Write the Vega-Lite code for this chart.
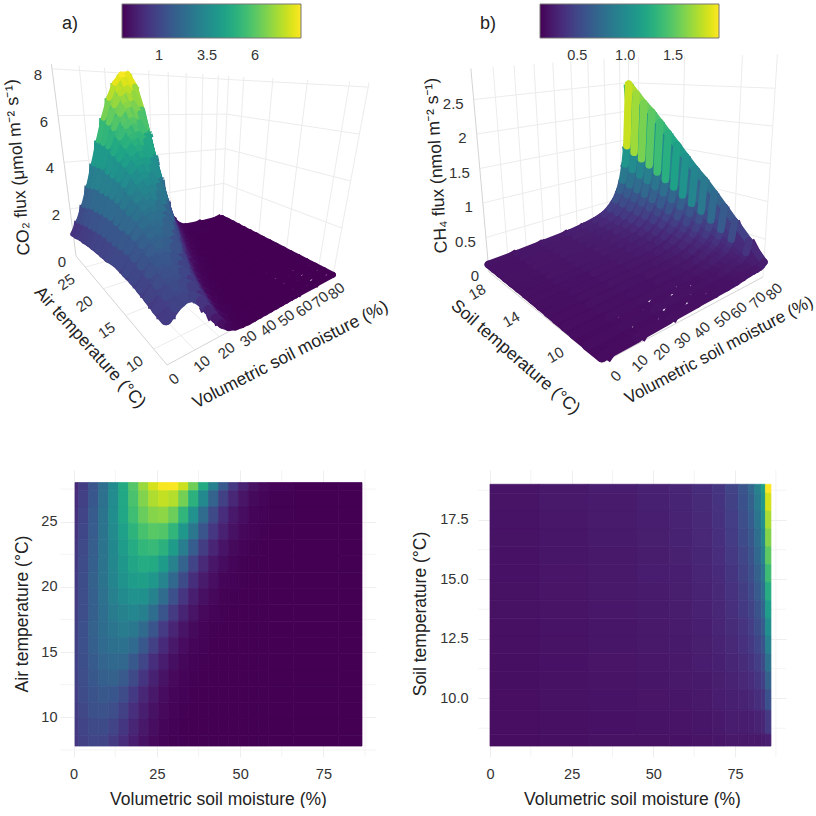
{"$schema":"https://vega.github.io/schema/vega-lite/v6.json","background":"white","padding":{"left":2,"top":0,"right":0,"bottom":0},"bounds":"flush","columns":2,"spacing":{"row":0,"column":102},"resolve":{"scale":{"color":"independent","stroke":"independent"}},"config":{"font":"Liberation Sans","view":{"stroke":null},"axis":{"labelFont":"Liberation Sans","titleFont":"Liberation Sans","titleFontWeight":"normal","labelColor":"#333333","titleColor":"#222222","labelFontSize":14.5,"titleFontSize":17.5,"domain":false,"ticks":false,"grid":true,"gridColor":"#eeeeee"},"legend":{"labelFont":"Liberation Sans"}},
"datasets":{
"auxA":[
{"k":"a","id":"z","m":0,"t":28,"f":0},{"k":"a","id":"z","m":0,"t":28,"f":8.2},{"k":"a","id":"tt","m":0,"t":28,"f":0},{"k":"a","id":"tt","m":0,"t":8,"f":0},{"k":"a","id":"mm","m":0,"t":8,"f":0},{"k":"a","id":"mm","m":87,"t":8,"f":0},
{"k":"g","id":1,"m":10,"t":28,"f":0},{"k":"g","id":1,"m":10,"t":28,"f":8.2},{"k":"g","id":2,"m":20,"t":28,"f":0},{"k":"g","id":2,"m":20,"t":28,"f":8.2},{"k":"g","id":3,"m":30,"t":28,"f":0},{"k":"g","id":3,"m":30,"t":28,"f":8.2},{"k":"g","id":4,"m":40,"t":28,"f":0},{"k":"g","id":4,"m":40,"t":28,"f":8.2},{"k":"g","id":5,"m":50,"t":28,"f":0},{"k":"g","id":5,"m":50,"t":28,"f":8.2},{"k":"g","id":6,"m":60,"t":28,"f":0},{"k":"g","id":6,"m":60,"t":28,"f":8.2},{"k":"g","id":7,"m":70,"t":28,"f":0},{"k":"g","id":7,"m":70,"t":28,"f":8.2},{"k":"g","id":8,"m":80,"t":28,"f":0},{"k":"g","id":8,"m":80,"t":28,"f":8.2},{"k":"g","id":9,"m":87,"t":28,"f":0},{"k":"g","id":9,"m":87,"t":28,"f":8.2},
{"k":"g","id":10,"m":87,"t":25,"f":0},{"k":"g","id":10,"m":87,"t":25,"f":8.2},{"k":"g","id":11,"m":87,"t":20,"f":0},{"k":"g","id":11,"m":87,"t":20,"f":8.2},{"k":"g","id":12,"m":87,"t":15,"f":0},{"k":"g","id":12,"m":87,"t":15,"f":8.2},{"k":"g","id":13,"m":87,"t":10,"f":0},{"k":"g","id":13,"m":87,"t":10,"f":8.2},{"k":"g","id":14,"m":87,"t":8,"f":0},{"k":"g","id":14,"m":87,"t":8,"f":8.2},
{"k":"g","id":20,"m":0,"t":28,"f":2},{"k":"g","id":20,"m":87,"t":28,"f":2},{"k":"g","id":21,"m":0,"t":28,"f":4},{"k":"g","id":21,"m":87,"t":28,"f":4},{"k":"g","id":22,"m":0,"t":28,"f":6},{"k":"g","id":22,"m":87,"t":28,"f":6},{"k":"g","id":23,"m":0,"t":28,"f":8},{"k":"g","id":23,"m":87,"t":28,"f":8},
{"k":"g","id":24,"m":87,"t":28,"f":2},{"k":"g","id":24,"m":87,"t":8,"f":2},{"k":"g","id":25,"m":87,"t":28,"f":4},{"k":"g","id":25,"m":87,"t":8,"f":4},{"k":"g","id":26,"m":87,"t":28,"f":6},{"k":"g","id":26,"m":87,"t":8,"f":6},{"k":"g","id":27,"m":87,"t":28,"f":8},{"k":"g","id":27,"m":87,"t":8,"f":8},
{"k":"g","id":30,"m":0,"t":25,"f":0},{"k":"g","id":30,"m":87,"t":25,"f":0},{"k":"g","id":31,"m":0,"t":20,"f":0},{"k":"g","id":31,"m":87,"t":20,"f":0},{"k":"g","id":32,"m":0,"t":15,"f":0},{"k":"g","id":32,"m":87,"t":15,"f":0},{"k":"g","id":33,"m":0,"t":10,"f":0},{"k":"g","id":33,"m":87,"t":10,"f":0},
{"k":"g","id":40,"m":10,"t":28,"f":0},{"k":"g","id":40,"m":10,"t":8,"f":0},{"k":"g","id":41,"m":20,"t":28,"f":0},{"k":"g","id":41,"m":20,"t":8,"f":0},{"k":"g","id":42,"m":30,"t":28,"f":0},{"k":"g","id":42,"m":30,"t":8,"f":0},{"k":"g","id":43,"m":40,"t":28,"f":0},{"k":"g","id":43,"m":40,"t":8,"f":0},{"k":"g","id":44,"m":60,"t":28,"f":0},{"k":"g","id":44,"m":60,"t":8,"f":0},{"k":"g","id":45,"m":80,"t":28,"f":0},{"k":"g","id":45,"m":80,"t":8,"f":0},
{"k":"mt","l":"0","m":0,"t":8,"f":0},{"k":"mt","l":"10","m":10,"t":8,"f":0},{"k":"mt","l":"20","m":20,"t":8,"f":0},{"k":"mt","l":"30","m":30,"t":8,"f":0},{"k":"mt","l":"40","m":40,"t":8,"f":0},{"k":"mt","l":"50","m":50,"t":8,"f":0},{"k":"mt","l":"60","m":61,"t":8,"f":0},{"k":"mt","l":"70","m":72,"t":8,"f":0},{"k":"mt","l":"80","m":84,"t":8,"f":0},
{"k":"tt","l":"25","m":0,"t":25,"f":0},{"k":"tt","l":"20","m":0,"t":20,"f":0},{"k":"tt","l":"15","m":0,"t":15,"f":0},{"k":"tt","l":"10","m":0,"t":10,"f":0},
{"k":"zt","l":"0","m":0,"t":28,"f":0},{"k":"zt","l":"2","m":0,"t":28,"f":2},{"k":"zt","l":"4","m":0,"t":28,"f":4},{"k":"zt","l":"6","m":0,"t":28,"f":6},{"k":"zt","l":"8","m":0,"t":28,"f":8},
{"k":"mT","l":"Volumetric soil moisture (%)","m":45,"t":8,"f":0},{"k":"tT","l":"Air temperature (°C)","m":0,"t":16,"f":0},{"k":"zT","l":"CO₂ flux (μmol m⁻² s⁻¹)","m":0,"t":28,"f":4}
],
"auxB":[
{"k":"a","id":"z","m":0,"t":19,"f":0},{"k":"a","id":"z","m":0,"t":19,"f":2.95},{"k":"a","id":"tt","m":0,"t":19,"f":0},{"k":"a","id":"tt","m":0,"t":8,"f":0},{"k":"a","id":"mm","m":0,"t":8,"f":0},{"k":"a","id":"mm","m":86,"t":8,"f":0},
{"k":"g","id":1,"m":10,"t":19,"f":0},{"k":"g","id":1,"m":10,"t":19,"f":2.95},{"k":"g","id":2,"m":20,"t":19,"f":0},{"k":"g","id":2,"m":20,"t":19,"f":2.95},{"k":"g","id":3,"m":30,"t":19,"f":0},{"k":"g","id":3,"m":30,"t":19,"f":2.95},{"k":"g","id":4,"m":40,"t":19,"f":0},{"k":"g","id":4,"m":40,"t":19,"f":2.95},{"k":"g","id":5,"m":50,"t":19,"f":0},{"k":"g","id":5,"m":50,"t":19,"f":2.95},{"k":"g","id":6,"m":60,"t":19,"f":0},{"k":"g","id":6,"m":60,"t":19,"f":2.95},{"k":"g","id":7,"m":70,"t":19,"f":0},{"k":"g","id":7,"m":70,"t":19,"f":2.95},{"k":"g","id":8,"m":80,"t":19,"f":0},{"k":"g","id":8,"m":80,"t":19,"f":2.95},{"k":"g","id":9,"m":86,"t":19,"f":0},{"k":"g","id":9,"m":86,"t":19,"f":2.95},
{"k":"g","id":10,"m":86,"t":18,"f":0},{"k":"g","id":10,"m":86,"t":18,"f":2.95},{"k":"g","id":11,"m":86,"t":14,"f":0},{"k":"g","id":11,"m":86,"t":14,"f":2.95},{"k":"g","id":12,"m":86,"t":10,"f":0},{"k":"g","id":12,"m":86,"t":10,"f":2.95},{"k":"g","id":13,"m":86,"t":8,"f":0},{"k":"g","id":13,"m":86,"t":8,"f":2.95},
{"k":"g","id":20,"m":0,"t":19,"f":0.5},{"k":"g","id":20,"m":86,"t":19,"f":0.5},{"k":"g","id":21,"m":0,"t":19,"f":1},{"k":"g","id":21,"m":86,"t":19,"f":1},{"k":"g","id":22,"m":0,"t":19,"f":1.5},{"k":"g","id":22,"m":86,"t":19,"f":1.5},{"k":"g","id":23,"m":0,"t":19,"f":2},{"k":"g","id":23,"m":86,"t":19,"f":2},{"k":"g","id":24,"m":0,"t":19,"f":2.5},{"k":"g","id":24,"m":86,"t":19,"f":2.5},
{"k":"g","id":25,"m":86,"t":19,"f":0.5},{"k":"g","id":25,"m":86,"t":8,"f":0.5},{"k":"g","id":26,"m":86,"t":19,"f":1},{"k":"g","id":26,"m":86,"t":8,"f":1},{"k":"g","id":27,"m":86,"t":19,"f":1.5},{"k":"g","id":27,"m":86,"t":8,"f":1.5},{"k":"g","id":28,"m":86,"t":19,"f":2},{"k":"g","id":28,"m":86,"t":8,"f":2},{"k":"g","id":29,"m":86,"t":19,"f":2.5},{"k":"g","id":29,"m":86,"t":8,"f":2.5},
{"k":"g","id":40,"m":10,"t":9,"f":0},{"k":"g","id":40,"m":10,"t":8,"f":0},{"k":"g","id":41,"m":30,"t":9,"f":0},{"k":"g","id":41,"m":30,"t":8,"f":0},{"k":"g","id":42,"m":50,"t":9,"f":0},{"k":"g","id":42,"m":50,"t":8,"f":0},{"k":"g","id":43,"m":70,"t":9,"f":0},{"k":"g","id":43,"m":70,"t":8,"f":0},
{"k":"mt","l":"0","m":0,"t":8,"f":0},{"k":"mt","l":"10","m":10,"t":8,"f":0},{"k":"mt","l":"20","m":20,"t":8,"f":0},{"k":"mt","l":"30","m":30,"t":8,"f":0},{"k":"mt","l":"40","m":40,"t":8,"f":0},{"k":"mt","l":"50","m":51.5,"t":8,"f":0},{"k":"mt","l":"60","m":61,"t":8,"f":0},{"k":"mt","l":"70","m":73,"t":8,"f":0},{"k":"mt","l":"80","m":84,"t":8,"f":0},
{"k":"tt","l":"18","m":0,"t":18,"f":0},{"k":"tt","l":"14","m":0,"t":14,"f":0},{"k":"tt","l":"10","m":0,"t":10,"f":0},
{"k":"zt","l":"0","m":0,"t":19,"f":0},{"k":"zt","l":"0.5","m":0,"t":19,"f":0.5},{"k":"zt","l":"1","m":0,"t":19,"f":1},{"k":"zt","l":"1.5","m":0,"t":19,"f":1.5},{"k":"zt","l":"2","m":0,"t":19,"f":2},{"k":"zt","l":"2.5","m":0,"t":19,"f":2.5},
{"k":"mT","l":"Volumetric soil moisture (%)","m":45,"t":8,"f":0},{"k":"tT","l":"Soil temperature (°C)","m":0,"t":13,"f":0},{"k":"zT","l":"CH₄ flux (nmol m⁻² s⁻¹)","m":0,"t":19,"f":1.5}
],
"co2":[
{"m":0,"t":28,"f":0.94},{"m":3,"t":28,"f":1.43},{"m":6,"t":28,"f":2.07},{"m":9,"t":28,"f":2.88},{"m":12,"t":28,"f":3.83},{"m":15,"t":28,"f":4.85},{"m":18,"t":28,"f":5.87},{"m":21,"t":28,"f":6.79},{"m":24,"t":28,"f":7.5},{"m":27,"t":28,"f":7.92},{"m":30,"t":28,"f":7.96},{"m":33,"t":28,"f":7.38},{"m":36,"t":28,"f":6.26},{"m":39,"t":28,"f":4.85},{"m":42,"t":28,"f":3.44},{"m":45,"t":28,"f":2.22},{"m":48,"t":28,"f":1.31},{"m":51,"t":28,"f":0.71},{"m":54,"t":28,"f":0.35},{"m":57,"t":28,"f":0.16},{"m":60,"t":28,"f":0.07},{"m":72,"t":28,"f":0.01},{"m":87,"t":28,"f":0.01},
{"m":0,"t":26.75,"f":1.01},{"m":3,"t":26.75,"f":1.52},{"m":6,"t":26.75,"f":2.17},{"m":9,"t":26.75,"f":2.96},{"m":12,"t":26.75,"f":3.86},{"m":15,"t":26.75,"f":4.81},{"m":18,"t":26.75,"f":5.71},{"m":21,"t":26.75,"f":6.49},{"m":24,"t":26.75,"f":7.04},{"m":27,"t":26.75,"f":7.29},{"m":30,"t":26.75,"f":7.11},{"m":33,"t":26.75,"f":6.32},{"m":36,"t":26.75,"f":5.11},{"m":39,"t":26.75,"f":3.75},{"m":42,"t":26.75,"f":2.5},{"m":45,"t":26.75,"f":1.51},{"m":48,"t":26.75,"f":0.84},{"m":51,"t":26.75,"f":0.42},{"m":54,"t":26.75,"f":0.19},{"m":57,"t":26.75,"f":0.08},{"m":60,"t":26.75,"f":0.03},{"m":72,"t":26.75,"f":0.01},{"m":87,"t":26.75,"f":0.01},
{"m":0,"t":25.5,"f":1.11},{"m":3,"t":25.5,"f":1.62},{"m":6,"t":25.5,"f":2.28},{"m":9,"t":25.5,"f":3.04},{"m":12,"t":25.5,"f":3.89},{"m":15,"t":25.5,"f":4.75},{"m":18,"t":25.5,"f":5.53},{"m":21,"t":25.5,"f":6.16},{"m":24,"t":25.5,"f":6.54},{"m":27,"t":25.5,"f":6.64},{"m":30,"t":25.5,"f":6.21},{"m":33,"t":25.5,"f":5.26},{"m":36,"t":25.5,"f":4.04},{"m":39,"t":25.5,"f":2.8},{"m":42,"t":25.5,"f":1.76},{"m":45,"t":25.5,"f":1.0},{"m":48,"t":25.5,"f":0.52},{"m":51,"t":25.5,"f":0.24},{"m":54,"t":25.5,"f":0.1},{"m":57,"t":25.5,"f":0.04},{"m":60,"t":25.5,"f":0.02},{"m":72,"t":25.5,"f":0.01},{"m":87,"t":25.5,"f":0.01},
{"m":0,"t":24.25,"f":1.16},{"m":3,"t":24.25,"f":1.67},{"m":6,"t":24.25,"f":2.3},{"m":9,"t":24.25,"f":3.02},{"m":12,"t":24.25,"f":3.79},{"m":15,"t":24.25,"f":4.54},{"m":18,"t":24.25,"f":5.19},{"m":21,"t":24.25,"f":5.68},{"m":24,"t":24.25,"f":5.93},{"m":27,"t":24.25,"f":5.85},{"m":30,"t":24.25,"f":5.26},{"m":33,"t":24.25,"f":4.28},{"m":36,"t":24.25,"f":3.16},{"m":39,"t":24.25,"f":2.11},{"m":42,"t":24.25,"f":1.27},{"m":45,"t":24.25,"f":0.7},{"m":48,"t":24.25,"f":0.34},{"m":51,"t":24.25,"f":0.15},{"m":54,"t":24.25,"f":0.06},{"m":57,"t":24.25,"f":0.03},{"m":60,"t":24.25,"f":0.01},{"m":72,"t":24.25,"f":0.01},{"m":87,"t":24.25,"f":0.01},
{"m":0,"t":23,"f":1.24},{"m":3,"t":23,"f":1.75},{"m":6,"t":23,"f":2.36},{"m":9,"t":23,"f":3.05},{"m":12,"t":23,"f":3.74},{"m":15,"t":23,"f":4.39},{"m":18,"t":23,"f":4.92},{"m":21,"t":23,"f":5.28},{"m":24,"t":23,"f":5.4},{"m":27,"t":23,"f":5.12},{"m":30,"t":23,"f":4.36},{"m":33,"t":23,"f":3.35},{"m":36,"t":23,"f":2.31},{"m":39,"t":23,"f":1.43},{"m":42,"t":23,"f":0.79},{"m":45,"t":23,"f":0.4},{"m":48,"t":23,"f":0.18},{"m":51,"t":23,"f":0.07},{"m":54,"t":23,"f":0.03},{"m":57,"t":23,"f":0.01},{"m":60,"t":23,"f":0.01},{"m":72,"t":23,"f":0.01},{"m":87,"t":23,"f":0.01},
{"m":0,"t":21.75,"f":1.29},{"m":3,"t":21.75,"f":1.8},{"m":6,"t":21.75,"f":2.4},{"m":9,"t":21.75,"f":3.05},{"m":12,"t":21.75,"f":3.69},{"m":15,"t":21.75,"f":4.26},{"m":18,"t":21.75,"f":4.69},{"m":21,"t":21.75,"f":4.92},{"m":24,"t":21.75,"f":4.88},{"m":27,"t":21.75,"f":4.37},{"m":30,"t":21.75,"f":3.5},{"m":33,"t":21.75,"f":2.5},{"m":36,"t":21.75,"f":1.61},{"m":39,"t":21.75,"f":0.92},{"m":42,"t":21.75,"f":0.47},{"m":45,"t":21.75,"f":0.22},{"m":48,"t":21.75,"f":0.09},{"m":51,"t":21.75,"f":0.03},{"m":54,"t":21.75,"f":0.01},{"m":57,"t":21.75,"f":0.01},{"m":60,"t":21.75,"f":0.01},{"m":72,"t":21.75,"f":0.01},{"m":87,"t":21.75,"f":0.01},
{"m":0,"t":20.5,"f":1.34},{"m":3,"t":20.5,"f":1.85},{"m":6,"t":20.5,"f":2.43},{"m":9,"t":20.5,"f":3.03},{"m":12,"t":20.5,"f":3.6},{"m":15,"t":20.5,"f":4.08},{"m":18,"t":20.5,"f":4.39},{"m":21,"t":20.5,"f":4.5},{"m":24,"t":20.5,"f":4.24},{"m":27,"t":20.5,"f":3.57},{"m":30,"t":20.5,"f":2.67},{"m":33,"t":20.5,"f":1.78},{"m":36,"t":20.5,"f":1.05},{"m":39,"t":20.5,"f":0.55},{"m":42,"t":20.5,"f":0.26},{"m":45,"t":20.5,"f":0.11},{"m":48,"t":20.5,"f":0.04},{"m":51,"t":20.5,"f":0.02},{"m":54,"t":20.5,"f":0.01},{"m":57,"t":20.5,"f":0.01},{"m":60,"t":20.5,"f":0.01},{"m":72,"t":20.5,"f":0.01},{"m":87,"t":20.5,"f":0.01},
{"m":0,"t":19.25,"f":1.37},{"m":3,"t":19.25,"f":1.86},{"m":6,"t":19.25,"f":2.4},{"m":9,"t":19.25,"f":2.95},{"m":12,"t":19.25,"f":3.44},{"m":15,"t":19.25,"f":3.82},{"m":18,"t":19.25,"f":4.02},{"m":21,"t":19.25,"f":4.0},{"m":24,"t":19.25,"f":3.55},{"m":27,"t":19.25,"f":2.8},{"m":30,"t":19.25,"f":1.95},{"m":33,"t":19.25,"f":1.2},{"m":36,"t":19.25,"f":0.66},{"m":39,"t":19.25,"f":0.32},{"m":42,"t":19.25,"f":0.14},{"m":45,"t":19.25,"f":0.05},{"m":48,"t":19.25,"f":0.02},{"m":51,"t":19.25,"f":0.01},{"m":54,"t":19.25,"f":0.01},{"m":57,"t":19.25,"f":0.01},{"m":60,"t":19.25,"f":0.01},{"m":72,"t":19.25,"f":0.01},{"m":87,"t":19.25,"f":0.01},
{"m":0,"t":18,"f":1.4},{"m":3,"t":18,"f":1.88},{"m":6,"t":18,"f":2.38},{"m":9,"t":18,"f":2.87},{"m":12,"t":18,"f":3.28},{"m":15,"t":18,"f":3.55},{"m":18,"t":18,"f":3.65},{"m":21,"t":18,"f":3.43},{"m":24,"t":18,"f":2.84},{"m":27,"t":18,"f":2.08},{"m":30,"t":18,"f":1.35},{"m":33,"t":18,"f":0.77},{"m":36,"t":18,"f":0.39},{"m":39,"t":18,"f":0.17},{"m":42,"t":18,"f":0.07},{"m":45,"t":18,"f":0.03},{"m":48,"t":18,"f":0.01},{"m":51,"t":18,"f":0.01},{"m":54,"t":18,"f":0.01},{"m":57,"t":18,"f":0.01},{"m":60,"t":18,"f":0.01},{"m":72,"t":18,"f":0.01},{"m":87,"t":18,"f":0.01},
{"m":0,"t":16.75,"f":1.49},{"m":3,"t":16.75,"f":1.95},{"m":6,"t":16.75,"f":2.42},{"m":9,"t":16.75,"f":2.84},{"m":12,"t":16.75,"f":3.14},{"m":15,"t":16.75,"f":3.29},{"m":18,"t":16.75,"f":3.2},{"m":21,"t":16.75,"f":2.75},{"m":24,"t":16.75,"f":2.07},{"m":27,"t":16.75,"f":1.37},{"m":30,"t":16.75,"f":0.8},{"m":33,"t":16.75,"f":0.4},{"m":36,"t":16.75,"f":0.18},{"m":39,"t":16.75,"f":0.07},{"m":42,"t":16.75,"f":0.03},{"m":45,"t":16.75,"f":0.01},{"m":48,"t":16.75,"f":0.01},{"m":51,"t":16.75,"f":0.01},{"m":54,"t":16.75,"f":0.01},{"m":57,"t":16.75,"f":0.01},{"m":60,"t":16.75,"f":0.01},{"m":72,"t":16.75,"f":0.01},{"m":87,"t":16.75,"f":0.01},
{"m":0,"t":15.5,"f":1.53},{"m":3,"t":15.5,"f":1.96},{"m":6,"t":15.5,"f":2.38},{"m":9,"t":15.5,"f":2.72},{"m":12,"t":15.5,"f":2.94},{"m":15,"t":15.5,"f":2.99},{"m":18,"t":15.5,"f":2.74},{"m":21,"t":15.5,"f":2.19},{"m":24,"t":15.5,"f":1.53},{"m":27,"t":15.5,"f":0.94},{"m":30,"t":15.5,"f":0.5},{"m":33,"t":15.5,"f":0.23},{"m":36,"t":15.5,"f":0.1},{"m":39,"t":15.5,"f":0.04},{"m":42,"t":15.5,"f":0.01},{"m":45,"t":15.5,"f":0.01},{"m":48,"t":15.5,"f":0.01},{"m":51,"t":15.5,"f":0.01},{"m":54,"t":15.5,"f":0.01},{"m":57,"t":15.5,"f":0.01},{"m":60,"t":15.5,"f":0.01},{"m":72,"t":15.5,"f":0.01},{"m":87,"t":15.5,"f":0.01},
{"m":0,"t":14.25,"f":1.5},{"m":3,"t":14.25,"f":1.91},{"m":6,"t":14.25,"f":2.28},{"m":9,"t":14.25,"f":2.55},{"m":12,"t":14.25,"f":2.69},{"m":15,"t":14.25,"f":2.62},{"m":18,"t":14.25,"f":2.22},{"m":21,"t":14.25,"f":1.64},{"m":24,"t":14.25,"f":1.05},{"m":27,"t":14.25,"f":0.58},{"m":30,"t":14.25,"f":0.28},{"m":33,"t":14.25,"f":0.12},{"m":36,"t":14.25,"f":0.04},{"m":39,"t":14.25,"f":0.02},{"m":42,"t":14.25,"f":0.01},{"m":45,"t":14.25,"f":0.01},{"m":48,"t":14.25,"f":0.01},{"m":51,"t":14.25,"f":0.01},{"m":54,"t":14.25,"f":0.01},{"m":57,"t":14.25,"f":0.01},{"m":60,"t":14.25,"f":0.01},{"m":72,"t":14.25,"f":0.01},{"m":87,"t":14.25,"f":0.01},
{"m":0,"t":13,"f":1.49},{"m":3,"t":13,"f":1.86},{"m":6,"t":13,"f":2.19},{"m":9,"t":13,"f":2.39},{"m":12,"t":13,"f":2.45},{"m":15,"t":13,"f":2.23},{"m":18,"t":13,"f":1.76},{"m":21,"t":13,"f":1.21},{"m":24,"t":13,"f":0.72},{"m":27,"t":13,"f":0.37},{"m":30,"t":13,"f":0.17},{"m":33,"t":13,"f":0.07},{"m":36,"t":13,"f":0.02},{"m":39,"t":13,"f":0.01},{"m":42,"t":13,"f":0.01},{"m":45,"t":13,"f":0.01},{"m":48,"t":13,"f":0.01},{"m":51,"t":13,"f":0.01},{"m":54,"t":13,"f":0.01},{"m":57,"t":13,"f":0.01},{"m":60,"t":13,"f":0.01},{"m":72,"t":13,"f":0.01},{"m":87,"t":13,"f":0.01},
{"m":0,"t":11.75,"f":1.45},{"m":3,"t":11.75,"f":1.8},{"m":6,"t":11.75,"f":2.06},{"m":9,"t":11.75,"f":2.19},{"m":12,"t":11.75,"f":2.13},{"m":15,"t":11.75,"f":1.81},{"m":18,"t":11.75,"f":1.34},{"m":21,"t":11.75,"f":0.86},{"m":24,"t":11.75,"f":0.48},{"m":27,"t":11.75,"f":0.23},{"m":30,"t":11.75,"f":0.1},{"m":33,"t":11.75,"f":0.04},{"m":36,"t":11.75,"f":0.01},{"m":39,"t":11.75,"f":0.01},{"m":42,"t":11.75,"f":0.01},{"m":45,"t":11.75,"f":0.01},{"m":48,"t":11.75,"f":0.01},{"m":51,"t":11.75,"f":0.01},{"m":54,"t":11.75,"f":0.01},{"m":57,"t":11.75,"f":0.01},{"m":60,"t":11.75,"f":0.01},{"m":72,"t":11.75,"f":0.01},{"m":87,"t":11.75,"f":0.01},
{"m":0,"t":10.5,"f":1.39},{"m":3,"t":10.5,"f":1.7},{"m":6,"t":10.5,"f":1.92},{"m":9,"t":10.5,"f":2.0},{"m":12,"t":10.5,"f":1.86},{"m":15,"t":10.5,"f":1.51},{"m":18,"t":10.5,"f":1.06},{"m":21,"t":10.5,"f":0.65},{"m":24,"t":10.5,"f":0.34},{"m":27,"t":10.5,"f":0.16},{"m":30,"t":10.5,"f":0.06},{"m":33,"t":10.5,"f":0.02},{"m":36,"t":10.5,"f":0.01},{"m":39,"t":10.5,"f":0.01},{"m":42,"t":10.5,"f":0.01},{"m":45,"t":10.5,"f":0.01},{"m":48,"t":10.5,"f":0.01},{"m":51,"t":10.5,"f":0.01},{"m":54,"t":10.5,"f":0.01},{"m":57,"t":10.5,"f":0.01},{"m":60,"t":10.5,"f":0.01},{"m":72,"t":10.5,"f":0.01},{"m":87,"t":10.5,"f":0.01},
{"m":0,"t":9.25,"f":1.31},{"m":3,"t":9.25,"f":1.59},{"m":6,"t":9.25,"f":1.76},{"m":9,"t":9.25,"f":1.79},{"m":12,"t":9.25,"f":1.59},{"m":15,"t":9.25,"f":1.23},{"m":18,"t":9.25,"f":0.82},{"m":21,"t":9.25,"f":0.48},{"m":24,"t":9.25,"f":0.24},{"m":27,"t":9.25,"f":0.11},{"m":30,"t":9.25,"f":0.04},{"m":33,"t":9.25,"f":0.01},{"m":36,"t":9.25,"f":0.01},{"m":39,"t":9.25,"f":0.01},{"m":42,"t":9.25,"f":0.01},{"m":45,"t":9.25,"f":0.01},{"m":48,"t":9.25,"f":0.01},{"m":51,"t":9.25,"f":0.01},{"m":54,"t":9.25,"f":0.01},{"m":57,"t":9.25,"f":0.01},{"m":60,"t":9.25,"f":0.01},{"m":72,"t":9.25,"f":0.01},{"m":87,"t":9.25,"f":0.01},
{"m":0,"t":8,"f":1.26},{"m":3,"t":8,"f":1.51},{"m":6,"t":8,"f":1.64},{"m":9,"t":8,"f":1.6},{"m":12,"t":8,"f":1.36},{"m":15,"t":8,"f":1.0},{"m":18,"t":8,"f":0.64},{"m":21,"t":8,"f":0.36},{"m":24,"t":8,"f":0.17},{"m":27,"t":8,"f":0.07},{"m":30,"t":8,"f":0.03},{"m":33,"t":8,"f":0.01},{"m":36,"t":8,"f":0.01},{"m":39,"t":8,"f":0.01},{"m":42,"t":8,"f":0.01},{"m":45,"t":8,"f":0.01},{"m":48,"t":8,"f":0.01},{"m":51,"t":8,"f":0.01},{"m":54,"t":8,"f":0.01},{"m":57,"t":8,"f":0.01},{"m":60,"t":8,"f":0.01},{"m":72,"t":8,"f":0.01},{"m":87,"t":8,"f":0.01}
],
"ch4":[
{"m":0,"t":19,"f":0.12},{"m":15,"t":19,"f":0.14},{"m":30,"t":19,"f":0.17},{"m":45,"t":19,"f":0.2},{"m":55,"t":19,"f":0.24},{"m":62,"t":19,"f":0.28},{"m":68,"t":19,"f":0.34},{"m":72,"t":19,"f":0.42},{"m":76,"t":19,"f":0.55},{"m":79,"t":19,"f":0.72},{"m":81,"t":19,"f":0.9},{"m":83,"t":19,"f":1.2},{"m":84.3,"t":19,"f":1.55},{"m":86,"t":19,"f":2.75},
{"m":0,"t":18.25,"f":0.117},{"m":15,"t":18.25,"f":0.136},{"m":30,"t":18.25,"f":0.165},{"m":45,"t":18.25,"f":0.194},{"m":55,"t":18.25,"f":0.232},{"m":62,"t":18.25,"f":0.269},{"m":68,"t":18.25,"f":0.326},{"m":72,"t":18.25,"f":0.401},{"m":76,"t":18.25,"f":0.523},{"m":79,"t":18.25,"f":0.68},{"m":81,"t":18.25,"f":0.848},{"m":83,"t":18.25,"f":1.128},{"m":84.3,"t":18.25,"f":1.45},{"m":86,"t":18.25,"f":2.57},
{"m":0,"t":17.5,"f":0.113},{"m":15,"t":17.5,"f":0.132},{"m":30,"t":17.5,"f":0.16},{"m":45,"t":17.5,"f":0.188},{"m":55,"t":17.5,"f":0.223},{"m":62,"t":17.5,"f":0.258},{"m":68,"t":17.5,"f":0.311},{"m":72,"t":17.5,"f":0.382},{"m":76,"t":17.5,"f":0.496},{"m":79,"t":17.5,"f":0.642},{"m":81,"t":17.5,"f":0.797},{"m":83,"t":17.5,"f":1.056},{"m":84.3,"t":17.5,"f":1.356},{"m":86,"t":17.5,"f":2.395},
{"m":0,"t":16.75,"f":0.11},{"m":15,"t":16.75,"f":0.129},{"m":30,"t":16.75,"f":0.156},{"m":45,"t":16.75,"f":0.183},{"m":55,"t":16.75,"f":0.216},{"m":62,"t":16.75,"f":0.249},{"m":68,"t":16.75,"f":0.299},{"m":72,"t":16.75,"f":0.366},{"m":76,"t":16.75,"f":0.473},{"m":79,"t":16.75,"f":0.608},{"m":81,"t":16.75,"f":0.752},{"m":83,"t":16.75,"f":0.994},{"m":84.3,"t":16.75,"f":1.274},{"m":86,"t":16.75,"f":2.244},
{"m":0,"t":16,"f":0.107},{"m":15,"t":16,"f":0.125},{"m":30,"t":16,"f":0.152},{"m":45,"t":16,"f":0.177},{"m":55,"t":16,"f":0.208},{"m":62,"t":16,"f":0.238},{"m":68,"t":16,"f":0.285},{"m":72,"t":16,"f":0.347},{"m":76,"t":16,"f":0.446},{"m":79,"t":16,"f":0.568},{"m":81,"t":16,"f":0.701},{"m":83,"t":16,"f":0.922},{"m":84.3,"t":16,"f":1.178},{"m":86,"t":16,"f":2.068},
{"m":0,"t":15.25,"f":0.104},{"m":15,"t":15.25,"f":0.121},{"m":30,"t":15.25,"f":0.147},{"m":45,"t":15.25,"f":0.171},{"m":55,"t":15.25,"f":0.199},{"m":62,"t":15.25,"f":0.228},{"m":68,"t":15.25,"f":0.271},{"m":72,"t":15.25,"f":0.328},{"m":76,"t":15.25,"f":0.419},{"m":79,"t":15.25,"f":0.529},{"m":81,"t":15.25,"f":0.649},{"m":83,"t":15.25,"f":0.85},{"m":84.3,"t":15.25,"f":1.08},{"m":86,"t":15.25,"f":1.889},
{"m":0,"t":14.5,"f":0.1},{"m":15,"t":14.5,"f":0.117},{"m":30,"t":14.5,"f":0.142},{"m":45,"t":14.5,"f":0.166},{"m":55,"t":14.5,"f":0.191},{"m":62,"t":14.5,"f":0.217},{"m":68,"t":14.5,"f":0.256},{"m":72,"t":14.5,"f":0.31},{"m":76,"t":14.5,"f":0.392},{"m":79,"t":14.5,"f":0.49},{"m":81,"t":14.5,"f":0.598},{"m":83,"t":14.5,"f":0.776},{"m":84.3,"t":14.5,"f":0.984},{"m":86,"t":14.5,"f":1.713},
{"m":0,"t":13.75,"f":0.097},{"m":15,"t":13.75,"f":0.113},{"m":30,"t":13.75,"f":0.137},{"m":45,"t":13.75,"f":0.16},{"m":55,"t":13.75,"f":0.182},{"m":62,"t":13.75,"f":0.206},{"m":68,"t":13.75,"f":0.242},{"m":72,"t":13.75,"f":0.291},{"m":76,"t":13.75,"f":0.365},{"m":79,"t":13.75,"f":0.451},{"m":81,"t":13.75,"f":0.545},{"m":83,"t":13.75,"f":0.704},{"m":84.3,"t":13.75,"f":0.888},{"m":86,"t":13.75,"f":1.535},
{"m":0,"t":13,"f":0.094},{"m":15,"t":13,"f":0.109},{"m":30,"t":13,"f":0.133},{"m":45,"t":13,"f":0.154},{"m":55,"t":13,"f":0.174},{"m":62,"t":13,"f":0.195},{"m":68,"t":13,"f":0.228},{"m":72,"t":13,"f":0.273},{"m":76,"t":13,"f":0.338},{"m":79,"t":13,"f":0.411},{"m":81,"t":13,"f":0.494},{"m":83,"t":13,"f":0.632},{"m":84.3,"t":13,"f":0.791},{"m":86,"t":13,"f":1.359},
{"m":0,"t":12.25,"f":0.091},{"m":15,"t":12.25,"f":0.106},{"m":30,"t":12.25,"f":0.129},{"m":45,"t":12.25,"f":0.149},{"m":55,"t":12.25,"f":0.167},{"m":62,"t":12.25,"f":0.186},{"m":68,"t":12.25,"f":0.216},{"m":72,"t":12.25,"f":0.256},{"m":76,"t":12.25,"f":0.315},{"m":79,"t":12.25,"f":0.377},{"m":81,"t":12.25,"f":0.45},{"m":83,"t":12.25,"f":0.57},{"m":84.3,"t":12.25,"f":0.708},{"m":86,"t":12.25,"f":1.207},
{"m":0,"t":11.5,"f":0.087},{"m":15,"t":11.5,"f":0.102},{"m":30,"t":11.5,"f":0.124},{"m":45,"t":11.5,"f":0.143},{"m":55,"t":11.5,"f":0.158},{"m":62,"t":11.5,"f":0.175},{"m":68,"t":11.5,"f":0.201},{"m":72,"t":11.5,"f":0.237},{"m":76,"t":11.5,"f":0.288},{"m":79,"t":11.5,"f":0.338},{"m":81,"t":11.5,"f":0.398},{"m":83,"t":11.5,"f":0.498},{"m":84.3,"t":11.5,"f":0.612},{"m":86,"t":11.5,"f":1.029},
{"m":0,"t":10.75,"f":0.084},{"m":15,"t":10.75,"f":0.098},{"m":30,"t":10.75,"f":0.119},{"m":45,"t":10.75,"f":0.137},{"m":55,"t":10.75,"f":0.15},{"m":62,"t":10.75,"f":0.165},{"m":68,"t":10.75,"f":0.187},{"m":72,"t":10.75,"f":0.218},{"m":76,"t":10.75,"f":0.261},{"m":79,"t":10.75,"f":0.299},{"m":81,"t":10.75,"f":0.347},{"m":83,"t":10.75,"f":0.426},{"m":84.3,"t":10.75,"f":0.516},{"m":86,"t":10.75,"f":0.853},
{"m":0,"t":10,"f":0.081},{"m":15,"t":10,"f":0.094},{"m":30,"t":10,"f":0.114},{"m":45,"t":10,"f":0.131},{"m":55,"t":10,"f":0.142},{"m":62,"t":10,"f":0.154},{"m":68,"t":10,"f":0.173},{"m":72,"t":10,"f":0.2},{"m":76,"t":10,"f":0.234},{"m":79,"t":10,"f":0.259},{"m":81,"t":10,"f":0.295},{"m":83,"t":10,"f":0.354},{"m":84.3,"t":10,"f":0.419},{"m":86,"t":10,"f":0.677},
{"m":0,"t":9,"f":0.076},{"m":15,"t":9,"f":0.089},{"m":30,"t":9,"f":0.108},{"m":45,"t":9,"f":0.124},{"m":55,"t":9,"f":0.131},{"m":62,"t":9,"f":0.14},{"m":68,"t":9,"f":0.154},{"m":72,"t":9,"f":0.176},{"m":76,"t":9,"f":0.2},{"m":79,"t":9,"f":0.209},{"m":81,"t":9,"f":0.229},{"m":83,"t":9,"f":0.26},{"m":84.3,"t":9,"f":0.295},{"m":86,"t":9,"f":0.448},
{"m":0,"t":8,"f":0.072},{"m":15,"t":8,"f":0.084},{"m":30,"t":8,"f":0.102},{"m":45,"t":8,"f":0.116},{"m":55,"t":8,"f":0.12},{"m":62,"t":8,"f":0.126},{"m":68,"t":8,"f":0.136},{"m":72,"t":8,"f":0.151},{"m":76,"t":8,"f":0.165},{"m":79,"t":8,"f":0.17},{"m":81,"t":8,"f":0.172},{"m":83,"t":8,"f":0.178},{"m":84.3,"t":8,"f":0.19},{"m":86,"t":8,"f":0.22}
]},
"concat":[
{"width":316,"height":470,"title":{"text":"a)","anchor":"start","frame":"group","dx":2,"dy":37,"fontSize":18,"font":"Liberation Sans","fontWeight":"normal","color":"#222222"},"resolve":{"scale":{"color":"independent"}},
"layer":[
{"data":{"name":"auxA"},"transform":[{"calculate":"1+0.3512*datum.m/87-0.3553*(28-datum.t)/20","as":"d"},{"calculate":"(224*datum.m/87+31.7*(28-datum.t)/20+76)/datum.d","as":"gx"},{"calculate":"(38.6*datum.m/87-20.7*(28-datum.t)/20+256)/datum.d","as":"gy"},{"calculate":"datum.f*23.4/datum.d","as":"h"},{"calculate":"datum.gx+(datum.gx-182)*datum.h/(1083-datum.gy)","as":"sx"},{"calculate":"datum.gy-datum.h","as":"sy"}],
"encoding":{"x":{"field":"sx","type":"quantitative","axis":null,"scale":{"domain":[60,376],"nice":false,"zero":false}},"y":{"field":"sy","type":"quantitative","axis":null,"scale":{"domain":[470,0],"nice":false,"zero":false}}},
"layer":[
{"transform":[{"filter":"datum.k=='g'"}],"mark":{"type":"line","stroke":"#ececec","strokeWidth":1},"encoding":{"detail":{"field":"id"}}},
{"transform":[{"filter":"datum.k=='a'"}],"mark":{"type":"line","stroke":"#d4d4d4","strokeWidth":1},"encoding":{"detail":{"field":"id"}}},
{"transform":[{"filter":"datum.k=='mt'"}],"mark":{"type":"text","baseline":"middle","angle":-40,"dx":-3.6,"dy":15.2,"fontSize":15,"color":"#333333"},"encoding":{"text":{"field":"l"}}},
{"transform":[{"filter":"datum.k=='tt'"}],"mark":{"type":"text","baseline":"middle","angle":-35,"dx":-24.2,"dy":1.4,"fontSize":15,"color":"#333333"},"encoding":{"text":{"field":"l"}}},
{"transform":[{"filter":"datum.k=='zt'"}],"mark":{"type":"text","baseline":"middle","dx":-14,"dy":6,"fontSize":15,"color":"#333333"},"encoding":{"text":{"field":"l"}}},
{"transform":[{"filter":"datum.k=='mT'"}],"mark":{"type":"text","baseline":"middle","angle":-27,"dx":-3.1,"dy":50.1,"fontSize":17.5,"color":"#222222"},"encoding":{"text":{"field":"l"}}},
{"transform":[{"filter":"datum.k=='tT'"}],"mark":{"type":"text","baseline":"middle","angle":48,"dx":7.5,"dy":48.4,"fontSize":17.5,"color":"#222222"},"encoding":{"text":{"field":"l"}}},
{"transform":[{"filter":"datum.k=='zT'"}],"mark":{"type":"text","baseline":"middle","angle":265.7,"dx":-1.5,"dy":-46,"fontSize":17.5,"color":"#222222"},"encoding":{"text":{"field":"l"}}}
]},
{"data":{"name":"co2"},"transform":[{"calculate":"1+0.3512*datum.m/87-0.3553*(28-datum.t)/20","as":"d"},{"calculate":"(224*datum.m/87+31.7*(28-datum.t)/20+76)/datum.d","as":"gx"},{"calculate":"(38.6*datum.m/87-20.7*(28-datum.t)/20+256)/datum.d","as":"gy"},{"calculate":"datum.f*23.4/datum.d","as":"h"},{"calculate":"datum.gx+(datum.gx-182)*datum.h/(1083-datum.gy)","as":"sx"},{"calculate":"datum.gy-datum.h","as":"sy"},{"calculate":"max(5.5,5/(datum.d*datum.d))","as":"w"},{"calculate":"max(9,8/(datum.d*datum.d))","as":"wd"}],
"encoding":{"x":{"field":"sx","type":"quantitative","axis":null,"scale":{"domain":[60,376],"nice":false,"zero":false}},"y":{"field":"sy","type":"quantitative","axis":null,"scale":{"domain":[470,0],"nice":false,"zero":false}}},
"layer":[
{"transform":[{"window":[{"op":"lead","field":"sx","as":"nx"},{"op":"lead","field":"sy","as":"ny"},{"op":"lead","field":"f","as":"nf"}],"groupby":["t"],"sort":[{"field":"m","order":"ascending"}]},{"window":[{"op":"lead","field":"nx","as":"sx2"},{"op":"lead","field":"ny","as":"sy2"}],"groupby":["m"],"sort":[{"field":"t","order":"ascending"}]},{"filter":"isValid(datum.sx2)"},{"calculate":"(datum.f+datum.nf)/2","as":"c"}],"mark":{"type":"rule","strokeCap":"butt"},"encoding":{"x2":{"field":"sx2"},"y2":{"field":"sy2"},"size":{"field":"wd","type":"quantitative","scale":null,"legend":null},"color":{"field":"c","type":"quantitative","legend":null,"scale":{"scheme":"viridis","domain":[0,8]}}}},
{"transform":[{"window":[{"op":"lead","field":"sx","as":"sx2"},{"op":"lead","field":"sy","as":"sy2"},{"op":"lead","field":"f","as":"f2"}],"groupby":["m"],"sort":[{"field":"t","order":"ascending"}]},{"filter":"isValid(datum.sx2)"},{"calculate":"(datum.f+datum.f2)/2","as":"c"}],"mark":{"type":"rule","strokeCap":"round"},"encoding":{"x2":{"field":"sx2"},"y2":{"field":"sy2"},"size":{"field":"w","type":"quantitative","scale":null,"legend":null},"color":{"field":"c","type":"quantitative","legend":null,"scale":{"scheme":"viridis","domain":[0,8]}}}},
{"transform":[{"window":[{"op":"lead","field":"sx","as":"sx2"},{"op":"lead","field":"sy","as":"sy2"},{"op":"lead","field":"f","as":"f2"}],"groupby":["t"],"sort":[{"field":"m","order":"ascending"}]},{"filter":"isValid(datum.sx2)"},{"calculate":"(datum.f+datum.f2)/2","as":"c"}],"mark":{"type":"rule","strokeCap":"round"},"encoding":{"x2":{"field":"sx2"},"y2":{"field":"sy2"},"size":{"field":"w","type":"quantitative","scale":null,"legend":null},"color":{"field":"c","type":"quantitative","legend":null,"scale":{"scheme":"viridis","domain":[0,8]}}}}
]},
{"data":{"values":[{"v":1},{"v":3.5},{"v":6}]},"mark":{"type":"point","opacity":0},"encoding":{"color":{"field":"v","type":"quantitative","scale":{"scheme":"viridis","domain":[-0.93,8.4],"nice":false,"zero":false},"legend":{"orient":"none","legendX":62,"legendY":4,"direction":"horizontal","title":null,"gradientLength":179,"gradientThickness":34,"gradientStrokeColor":"#777777","gradientStrokeWidth":1,"values":[1,3.5,6],"labelExpr":"''+datum.value","labelFontSize":14.5,"labelColor":"#333333","labelOffset":11}}}}
]},
{"width":308,"height":470,"title":{"text":"b)","anchor":"start","frame":"group","dx":2,"dy":37,"fontSize":18,"font":"Liberation Sans","fontWeight":"normal","color":"#222222"},"resolve":{"scale":{"color":"independent"}},
"layer":[
{"data":{"name":"auxB"},"transform":[{"calculate":"1+0.2202*datum.m/86-0.3061*(19-datum.t)/11","as":"d"},{"calculate":"(279.7*datum.m/86-71.3*(19-datum.t)/11+489)/datum.d","as":"gx"},{"calculate":"(1.3*datum.m/86-20.1*(19-datum.t)/11+272)/datum.d","as":"gy"},{"calculate":"datum.f*69/datum.d","as":"h"},{"calculate":"datum.gx+(datum.gx-647.5)*datum.h/(2053-datum.gy)","as":"sx"},{"calculate":"datum.gy-datum.h","as":"sy"}],
"encoding":{"x":{"field":"sx","type":"quantitative","axis":null,"scale":{"domain":[478,786],"nice":false,"zero":false}},"y":{"field":"sy","type":"quantitative","axis":null,"scale":{"domain":[470,0],"nice":false,"zero":false}}},
"layer":[
{"transform":[{"filter":"datum.k=='g'"}],"mark":{"type":"line","stroke":"#ececec","strokeWidth":1},"encoding":{"detail":{"field":"id"}}},
{"transform":[{"filter":"datum.k=='a'"}],"mark":{"type":"line","stroke":"#d4d4d4","strokeWidth":1},"encoding":{"detail":{"field":"id"}}},
{"transform":[{"filter":"datum.k=='mt'"}],"mark":{"type":"text","baseline":"middle","angle":-45,"dx":0.7,"dy":19.1,"fontSize":15,"color":"#333333"},"encoding":{"text":{"field":"l"}}},
{"transform":[{"filter":"datum.k=='tt'"}],"mark":{"type":"text","baseline":"middle","angle":-30,"dx":-23.5,"dy":2.6,"fontSize":15,"color":"#333333"},"encoding":{"text":{"field":"l"}}},
{"transform":[{"filter":"datum.k=='zt'"}],"mark":{"type":"text","baseline":"middle","align":"right","dx":-10,"dy":4,"fontSize":15,"color":"#333333"},"encoding":{"text":{"field":"l"}}},
{"transform":[{"filter":"datum.k=='mT'"}],"mark":{"type":"text","baseline":"middle","angle":-28,"dx":1.5,"dy":44,"fontSize":17,"color":"#222222"},"encoding":{"text":{"field":"l"}}},
{"transform":[{"filter":"datum.k=='tT'"}],"mark":{"type":"text","baseline":"middle","angle":41,"dx":10,"dy":49.6,"fontSize":17.5,"color":"#222222"},"encoding":{"text":{"field":"l"}}},
{"transform":[{"filter":"datum.k=='zT'"}],"mark":{"type":"text","baseline":"middle","angle":266.6,"dx":5.5,"dy":-42.7,"fontSize":17.5,"color":"#222222"},"encoding":{"text":{"field":"l"}}}
]},
{"data":{"name":"ch4"},"transform":[{"calculate":"1+0.2202*datum.m/86-0.3061*(19-datum.t)/11","as":"d"},{"calculate":"(279.7*datum.m/86-71.3*(19-datum.t)/11+489)/datum.d","as":"gx"},{"calculate":"(1.3*datum.m/86-20.1*(19-datum.t)/11+272)/datum.d","as":"gy"},{"calculate":"datum.f*62/datum.d","as":"h"},{"calculate":"datum.gx+(datum.gx-647.5)*datum.h/(2053-datum.gy)","as":"sx"},{"calculate":"datum.gy-datum.h","as":"sy"},{"calculate":"max(7.5,5.5/(datum.d*datum.d))","as":"w"},{"calculate":"max(10,9.5/(datum.d*datum.d))","as":"wd"}],
"encoding":{"x":{"field":"sx","type":"quantitative","axis":null,"scale":{"domain":[478,786],"nice":false,"zero":false}},"y":{"field":"sy","type":"quantitative","axis":null,"scale":{"domain":[470,0],"nice":false,"zero":false}}},
"layer":[
{"transform":[{"window":[{"op":"lead","field":"sx","as":"nx"},{"op":"lead","field":"sy","as":"ny"},{"op":"lead","field":"f","as":"nf"}],"groupby":["t"],"sort":[{"field":"m","order":"ascending"}]},{"window":[{"op":"lead","field":"nx","as":"sx2"},{"op":"lead","field":"ny","as":"sy2"}],"groupby":["m"],"sort":[{"field":"t","order":"ascending"}]},{"filter":"isValid(datum.sx2)"},{"calculate":"(datum.f+datum.nf)/2","as":"c"}],"mark":{"type":"rule","strokeCap":"butt"},"encoding":{"x2":{"field":"sx2"},"y2":{"field":"sy2"},"size":{"field":"wd","type":"quantitative","scale":null,"legend":null},"color":{"field":"c","type":"quantitative","legend":null,"scale":{"scheme":"viridis","domain":[0,3]}}}},
{"transform":[{"window":[{"op":"lead","field":"sx","as":"sx2"},{"op":"lead","field":"sy","as":"sy2"},{"op":"lead","field":"f","as":"f2"}],"groupby":["m"],"sort":[{"field":"t","order":"ascending"}]},{"filter":"isValid(datum.sx2)"},{"calculate":"(datum.f+datum.f2)/2","as":"c"}],"mark":{"type":"rule","strokeCap":"round"},"encoding":{"x2":{"field":"sx2"},"y2":{"field":"sy2"},"size":{"field":"w","type":"quantitative","scale":null,"legend":null},"color":{"field":"c","type":"quantitative","legend":null,"scale":{"scheme":"viridis","domain":[0,3]}}}},
{"transform":[{"window":[{"op":"lead","field":"sx","as":"sx2"},{"op":"lead","field":"sy","as":"sy2"},{"op":"lead","field":"f","as":"f2"}],"groupby":["t"],"sort":[{"field":"m","order":"ascending"}]},{"filter":"isValid(datum.sx2)"},{"calculate":"max(datum.f,datum.f2)","as":"c"}],"mark":{"type":"rule","strokeCap":"round"},"encoding":{"x2":{"field":"sx2"},"y2":{"field":"sy2"},"size":{"field":"w","type":"quantitative","scale":null,"legend":null},"color":{"field":"c","type":"quantitative","legend":null,"scale":{"scheme":"viridis","domain":[0,3]}}}}
]},
{"data":{"values":[{"v":0.5},{"v":1},{"v":1.5}]},"mark":{"type":"point","opacity":0},"encoding":{"color":{"field":"v","type":"quantitative","scale":{"scheme":"viridis","domain":[0.11,1.98],"nice":false,"zero":false},"legend":{"orient":"none","legendX":62,"legendY":4,"direction":"horizontal","title":null,"gradientLength":179,"gradientThickness":34,"gradientStrokeColor":"#777777","gradientStrokeWidth":1,"values":[0.5,1,1.5],"format":".1f","labelFontSize":14.5,"labelColor":"#333333","labelOffset":11}}}}
]},
{"width":316,"height":287,
"layer":[
{"data":{"values":[{"v":12.5},{"v":37.5},{"v":62.5},{"v":87.5}]},"mark":{"type":"rule","stroke":"#f4f4f4"},"encoding":{"x":{"field":"v","type":"quantitative","scale":{"domain":[-4.1,90.8],"nice":false,"zero":false},"axis":{"values":[0,25,50,75],"title":"Volumetric soil moisture (%)","labelPadding":10,"titlePadding":10,"labelFlush":false}}}},
{"data":{"values":[{"v":7.5},{"v":12.5},{"v":17.5},{"v":22.5},{"v":27.5}]},"mark":{"type":"rule","stroke":"#f4f4f4"},"encoding":{"y":{"field":"v","type":"quantitative","scale":{"domain":[6.96,28.96],"nice":false,"zero":false},"axis":{"values":[10,15,20,25],"title":"Air temperature (°C)","labelPadding":3,"titlePadding":9,"labelFlush":false}}}},
{"data":{"name":"co2"},"transform":[{"window":[{"op":"lag","field":"m","as":"ml"},{"op":"lead","field":"m","as":"mn"}],"groupby":["t"],"sort":[{"field":"m","order":"ascending"}]},{"window":[{"op":"lag","field":"t","as":"tl"},{"op":"lead","field":"t","as":"tn"}],"groupby":["m"],"sort":[{"field":"t","order":"ascending"}]},{"calculate":"isValid(datum.ml)?(datum.ml+datum.m)/2:datum.m+0.4","as":"m1"},{"calculate":"isValid(datum.mn)?(datum.mn+datum.m)/2:datum.m-0.4","as":"m2"},{"calculate":"isValid(datum.tl)?(datum.tl+datum.t)/2:datum.t-0.2","as":"t1"},{"calculate":"isValid(datum.tn)?(datum.tn+datum.t)/2:datum.t","as":"t2"}],"mark":{"type":"rect","strokeWidth":0.7},
"encoding":{"x":{"field":"m1","type":"quantitative","scale":{"domain":[-4.1,90.8],"nice":false,"zero":false},"axis":{"values":[0,25,50,75],"title":"Volumetric soil moisture (%)","labelPadding":10,"titlePadding":10,"labelFlush":false}},"x2":{"field":"m2"},"y":{"field":"t1","type":"quantitative","scale":{"domain":[6.96,28.96],"nice":false,"zero":false},"axis":{"values":[10,15,20,25],"title":"Air temperature (°C)","labelPadding":3,"titlePadding":9,"labelFlush":false}},"y2":{"field":"t2"},"color":{"field":"f","type":"quantitative","legend":null,"scale":{"scheme":"viridis","domain":[0,8]}},"stroke":{"field":"f","type":"quantitative","legend":null,"scale":{"scheme":"viridis","domain":[0,8]}}}}
]},
{"width":308,"height":287,
"layer":[
{"data":{"values":[{"v":12.5},{"v":37.5},{"v":62.5},{"v":87.5}]},"mark":{"type":"rule","stroke":"#f4f4f4"},"encoding":{"x":{"field":"v","type":"quantitative","scale":{"domain":[-3.67,90.6],"nice":false,"zero":false},"axis":{"values":[0,25,50,75],"title":"Volumetric soil moisture (%)","labelPadding":10,"titlePadding":10,"labelFlush":false}}}},
{"data":{"values":[{"v":8.75},{"v":11.25},{"v":13.75},{"v":16.25},{"v":18.75}]},"mark":{"type":"rule","stroke":"#f4f4f4"},"encoding":{"y":{"field":"v","type":"quantitative","scale":{"domain":[7.54,19.6],"nice":false,"zero":false},"axis":{"values":[10,12.5,15,17.5],"format":".1f","title":"Soil temperature (°C)","labelPadding":10,"titlePadding":10,"labelFlush":false}}}},
{"data":{"name":"ch4"},"transform":[{"window":[{"op":"lag","field":"m","as":"ml"}],"groupby":["t"],"sort":[{"field":"m","order":"ascending"}]},{"window":[{"op":"lag","field":"t","as":"tl"},{"op":"lead","field":"t","as":"tn"}],"groupby":["m"],"sort":[{"field":"t","order":"ascending"}]},{"filter":"isValid(datum.ml)"},{"calculate":"isValid(datum.tl)?(datum.tl+datum.t)/2:datum.t","as":"t1"},{"calculate":"isValid(datum.tn)?(datum.tn+datum.t)/2:datum.t","as":"t2"}],"mark":{"type":"rect","strokeWidth":0.7},
"encoding":{"x":{"field":"ml","type":"quantitative","scale":{"domain":[-3.67,90.6],"nice":false,"zero":false},"axis":{"values":[0,25,50,75],"title":"Volumetric soil moisture (%)","labelPadding":10,"titlePadding":10,"labelFlush":false}},"x2":{"field":"m"},"y":{"field":"t1","type":"quantitative","scale":{"domain":[7.54,19.6],"nice":false,"zero":false},"axis":{"values":[10,12.5,15,17.5],"format":".1f","title":"Soil temperature (°C)","labelPadding":10,"titlePadding":10,"labelFlush":false}},"y2":{"field":"t2"},"color":{"field":"f","type":"quantitative","legend":null,"scale":{"scheme":"viridis","domain":[0,2.75]}},"stroke":{"field":"f","type":"quantitative","legend":null,"scale":{"scheme":"viridis","domain":[0,2.75]}}}}
]}
]}
